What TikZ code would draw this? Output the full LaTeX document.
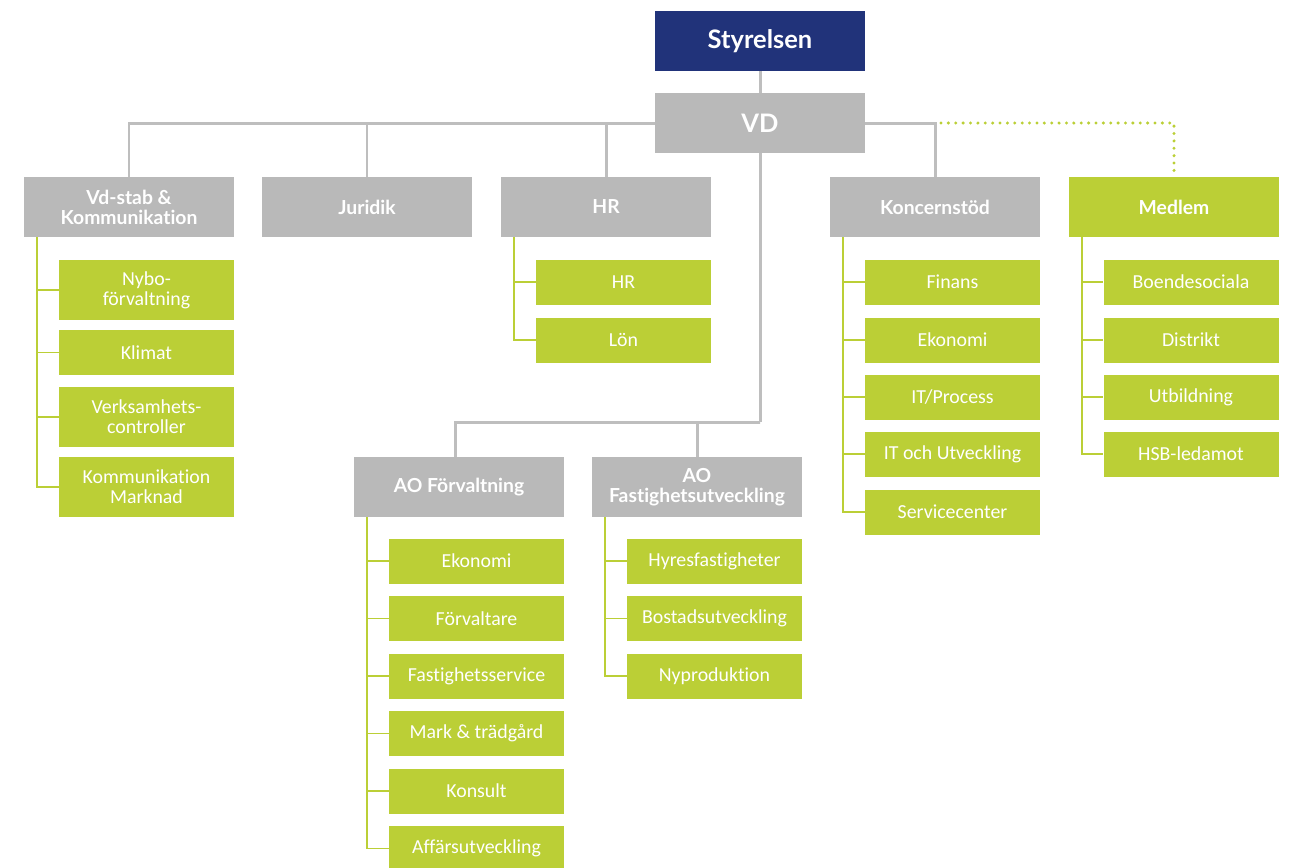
\documentclass[tikz,border=0pt]{standalone}
\usepackage{fontspec}
\setmainfont{Carlito}[Ligatures=CommonOff]
\newfontfamily\headfont{Lato}[Ligatures=CommonOff]
\usetikzlibrary{positioning}

\definecolor{boardblue}{RGB}{33,51,122}
\definecolor{unitgray}{RGB}{185,185,185}
\definecolor{linegray}{RGB}{190,190,190}
\definecolor{hsbgreen}{RGB}{187,207,54}

\begin{document}
\begin{tikzpicture}[x=0.02cm,y=-0.02cm,
  head/.style={rectangle,inner sep=1pt,minimum width=4.2cm,minimum height=1.2cm,
    text=white,align=center,font=\headfont\bfseries\fontsize{11}{11.5}\selectfont},
  top/.style={head,font=\headfont\bfseries\fontsize{14.5}{16}\selectfont},
  unit/.style={head,fill=unitgray},
  sub/.style={rectangle,inner sep=1pt,minimum width=3.5cm,minimum height=0.9cm,
    fill=hsbgreen,text=white,align=center,font=\fontsize{11.3}{11.5}\selectfont},
  conn/.style={draw=linegray,line width=1.7pt},
  tree/.style={draw=hsbgreen,line width=1.1pt},
  dots/.style={draw=hsbgreen,line width=1.9pt,line cap=round,dash pattern=on 0pt off 4.2pt}]
\useasboundingbox (0,0) rectangle (1294,867);

% ledning
\node[top,fill=boardblue] (styr) at (760,41) {Styrelsen};
\node[top,fill=unitgray] (vd) at (760,123) {VD};

% avdelningar
\node[unit] (vdstab) at (129,207) {Vd-stab \&\\Kommunikation};
\node[unit] (jur) at (367,207) {Juridik};
\node[unit] (hr) at (606,207) {HR};
\node[unit] (kon) at (935,207) {Koncernstöd};
\node[head,fill=hsbgreen] (medlem) at (1174,207) {Medlem};
\node[unit] (aof) at (459,487) {AO Förvaltning};
\node[unit] (aofu) at (697,487) {AO\\Fastighetsutveckling};

% vd-stab
\node[sub,minimum height=1.2cm] (nybo) at (146.5,290) {Nybo-\\förvaltning};
\node[sub] (klimat) at (146.5,352.5) {Klimat};
\node[sub,minimum height=1.2cm] (verks) at (146.5,417) {Verksamhets-\\controller};
\node[sub,minimum height=1.2cm] (komm) at (146.5,487) {Kommunikation\\Marknad};

% hr
\node[sub] (hr1) at (623.5,282) {HR};
\node[sub] (lon) at (623.5,340) {Lön};

% koncernstod
\node[sub] (finans) at (952.5,282) {Finans};
\node[sub] (eko) at (952.5,340) {Ekonomi};
\node[sub] (itp) at (952.5,397) {IT/Process};
\node[sub] (itu) at (952.5,454) {IT och Utveckling};
\node[sub] (serv) at (952.5,512) {Servicecenter};

% medlem
\node[sub] (boende) at (1191,282) {Boendesociala};
\node[sub] (distr) at (1191,340) {Distrikt};
\node[sub] (utb) at (1191,397) {Utbildning};
\node[sub] (hsb) at (1191,454) {HSB-ledamot};

% ao forvaltning
\node[sub] (aoeko) at (476.5,561) {Ekonomi};
\node[sub] (forv) at (476.5,618.5) {Förvaltare};
\node[sub] (fserv) at (476.5,676) {Fastighetsservice};
\node[sub] (mark) at (476.5,733.5) {Mark \& trädgård};
\node[sub] (kons) at (476.5,791) {Konsult};
\node[sub] (affu) at (476.5,848.5) {Affärsutveckling};

% ao fastighetsutveckling
\node[sub] (hyres) at (714.5,561) {Hyresfastigheter};
\node[sub] (bost) at (714.5,618.5) {Bostadsutveckling};
\node[sub] (nyprod) at (714.5,676) {Nyproduktion};

% linjer
\coordinate (split) at (vd |- 0,422);
\draw[conn] (styr) -- (vd);
\draw[conn] (vd.west) -| (vdstab.north);
\draw[conn] (vd.west) -| (jur.north);
\draw[conn] (vd.west) -| (hr.north);
\draw[conn] (vd.east) -| (kon.north);
\draw[conn] (vd.south) -- (split);
\draw[conn] ([xshift=-0.08cm]aof.north) |- (split) -| (aofu.north);
\draw[dots] ([xshift=0.12cm]kon.north |- vd.east) -| (medlem.north);

\coordinate (t1) at ([xshift=0.26cm]vdstab.south west);
\coordinate (t2) at ([xshift=0.26cm]hr.south west);
\coordinate (t3) at ([xshift=0.26cm]kon.south west);
\coordinate (t4) at ([xshift=0.26cm]medlem.south west);
\coordinate (t5) at ([xshift=0.26cm]aof.south west);
\coordinate (t6) at ([xshift=0.26cm]aofu.south west);
\foreach \n in {nybo,klimat,verks,komm} \draw[tree] (t1) |- (\n.west);
\foreach \n in {hr1,lon} \draw[tree] (t2) |- (\n.west);
\foreach \n in {finans,eko,itp,itu,serv} \draw[tree] (t3) |- (\n.west);
\foreach \n in {boende,distr,utb,hsb} \draw[tree] (t4) |- (\n.west);
\foreach \n in {aoeko,forv,fserv,mark,kons,affu} \draw[tree] (t5) |- (\n.west);
\foreach \n in {hyres,bost,nyprod} \draw[tree] (t6) |- (\n.west);
\end{tikzpicture}
\end{document}
